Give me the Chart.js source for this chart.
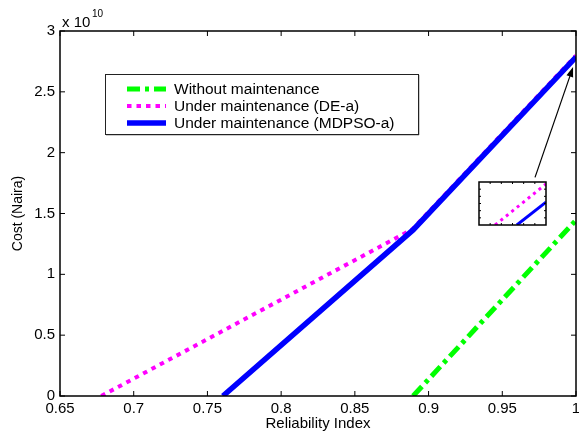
<!DOCTYPE html>
<html lang="en">
<head>
<meta charset="UTF-8">
<title>Cost vs Reliability Index</title>
<script src="https://cdn.jsdelivr.net/npm/chart.js"></script>
<style>
  body { margin: 0; background: #fff; }
  #wrap { position: relative; width: 579px; height: 433px; }
  #inset { position: absolute; }
</style>
</head>
<body>
<div id="wrap">
  <canvas id="myChart" width="579" height="433"></canvas>
  <canvas id="inset"></canvas>
</div>
<script>
const xTicks = [0.65, 0.7, 0.75, 0.8, 0.85, 0.9, 0.95, 1];
const yTicks = [0, 0.5, 1, 1.5, 2, 2.5, 3];
const seriesNames = ['Without maintenance', 'Under maintenance (DE-a)', 'Under maintenance (MDPSO-a)'];

// cost in units of 1e10 Naira
const withoutX = [0.8895, 1.0];
const withoutY = [0, 1.445];
const deX = [0.678, 0.889, 1.0];
const deY = [0, 1.37, 2.7986];
const mdpsoX = [0.7605, 0.8895, 1.0];
const mdpsoY = [0, 1.365, 2.786];

// zoomed view of the top right end
const insetXRange = [0.998, 1.0];
const insetYRange = [2.77, 2.80];
const insetDeX = [0.99848, 1.0];
const insetDeY = [2.77, 2.7986];
const insetMdpsoX = [0.99913, 1.0];
const insetMdpsoY = [2.77, 2.786];

// where the inset sits on the main axes, and the arrow pointing to the end
const insetBox = { x0: 0.9343, x1: 0.9797, y0: 1.40, y1: 1.756 };
const arrowFrom = { x: 0.9722, y: 1.797 };
const arrowTo = { x: 0.998, y: 2.704 };

const pts = (xs, ys) => xs.map((v, i) => ({ x: v, y: ys[i] }));

Chart.defaults.font.family = '"Liberation Sans", Arial, sans-serif';
Chart.defaults.color = '#000';

const styles = [
  { borderColor: '#00ff00', borderWidth: 5, borderDash: [13, 5, 4, 5], order: 2 },
  { borderColor: '#ff00ff', borderWidth: 4, borderDash: [4.5, 5], order: 1 },
  { borderColor: '#0000ff', borderWidth: 5.5, borderDash: [], order: 0 }
];

function drawFrame(chart, xs, ys, len, lw) {
  const { ctx, chartArea: a } = chart;
  ctx.save();
  ctx.strokeStyle = '#000';
  ctx.lineWidth = 1;
  ctx.beginPath();
  xs.forEach(px => {
    ctx.moveTo(px, a.bottom); ctx.lineTo(px, a.bottom - len);
    ctx.moveTo(px, a.top); ctx.lineTo(px, a.top + len);
  });
  ys.forEach(py => {
    ctx.moveTo(a.left, py); ctx.lineTo(a.left + len, py);
    ctx.moveTo(a.right, py); ctx.lineTo(a.right - len, py);
  });
  ctx.stroke();
  ctx.lineWidth = lw;
  ctx.strokeRect(a.left, a.top, a.right - a.left, a.bottom - a.top);
  ctx.restore();
}

const mainDecor = {
  id: 'mainDecor',
  afterDraw(chart) {
    const { ctx, chartArea: a, scales: { x, y } } = chart;
    drawFrame(chart,
      x.ticks.map(t => x.getPixelForValue(t.value)),
      y.ticks.map(t => y.getPixelForValue(t.value)), 5, 1.5);

    // exponent label
    ctx.save();
    ctx.fillStyle = '#000';
    ctx.textBaseline = 'alphabetic';
    ctx.font = '15px "Liberation Sans", Arial, sans-serif';
    ctx.fillText('x 10', a.left + 2, a.top - 4);
    ctx.font = '10px "Liberation Sans", Arial, sans-serif';
    ctx.fillText('10', a.left + 32, a.top - 14);

    // legend
    const lx = a.left + 45, ly = a.top + 43, lw = 313, lh = 60;
    ctx.fillStyle = '#fff';
    ctx.fillRect(lx, ly, lw, lh);
    ctx.strokeStyle = '#999';
    ctx.lineWidth = 1;
    ctx.beginPath();
    ctx.moveTo(lx + lw + 1, ly + 1); ctx.lineTo(lx + lw + 1, ly + lh + 1); ctx.lineTo(lx + 1, ly + lh + 1);
    ctx.stroke();
    ctx.strokeStyle = '#222';
    ctx.strokeRect(lx + 0.5, ly + 0.5, lw, lh);
    ctx.font = '15.5px "Liberation Sans", Arial, sans-serif';
    ctx.textBaseline = 'middle';
    chart.data.datasets.forEach((ds, i) => {
      const ry = ly + 15 + i * 17;
      ctx.strokeStyle = ds.borderColor;
      ctx.lineWidth = ds.borderWidth;
      ctx.setLineDash(ds.borderDash);
      ctx.beginPath();
      ctx.moveTo(lx + 22, ry); ctx.lineTo(lx + 61, ry);
      ctx.stroke();
      ctx.setLineDash([]);
      ctx.fillStyle = '#000';
      ctx.fillText(ds.label, lx + 69, ry + 1);
    });

    // arrow
    const x1 = x.getPixelForValue(arrowFrom.x), y1 = y.getPixelForValue(arrowFrom.y);
    const x2 = x.getPixelForValue(arrowTo.x), y2 = y.getPixelForValue(arrowTo.y);
    const ang = Math.atan2(y2 - y1, x2 - x1);
    ctx.strokeStyle = '#000';
    ctx.fillStyle = '#000';
    ctx.lineWidth = 1.2;
    ctx.beginPath();
    ctx.moveTo(x1, y1); ctx.lineTo(x2 - 8 * Math.cos(ang), y2 - 8 * Math.sin(ang));
    ctx.stroke();
    ctx.beginPath();
    ctx.moveTo(x2, y2);
    ctx.lineTo(x2 - 10 * Math.cos(ang) + 3.5 * Math.sin(ang), y2 - 10 * Math.sin(ang) - 3.5 * Math.cos(ang));
    ctx.lineTo(x2 - 10 * Math.cos(ang) - 3.5 * Math.sin(ang), y2 - 10 * Math.sin(ang) + 3.5 * Math.cos(ang));
    ctx.closePath();
    ctx.fill();
    ctx.restore();
  }
};

const fmt = v => String(+(+v).toFixed(2));

const main = new Chart(document.getElementById('myChart'), {
  type: 'line',
  data: {
    datasets: [
      { label: seriesNames[0], data: pts(withoutX, withoutY), ...styles[0] },
      { label: seriesNames[1], data: pts(deX, deY), ...styles[1] },
      { label: seriesNames[2], data: pts(mdpsoX, mdpsoY), ...styles[2] }
    ]
  },
  options: {
    responsive: false,
    animation: false,
    layout: { padding: { top: 31, right: 3, left: 0, bottom: 0 } },
    elements: { point: { radius: 0 }, line: { tension: 0, borderCapStyle: 'butt' } },
    plugins: { legend: { display: false }, tooltip: { enabled: false } },
    scales: {
      x: {
        type: 'linear', min: 0.65, max: 1,
        afterBuildTicks: s => { s.ticks = xTicks.map(v => ({ value: v })); },
        afterFit: s => { s.height = 37; s.paddingRight = 0; s.paddingLeft = 0; },
        ticks: { callback: fmt, font: { size: 15 }, padding: 4, maxRotation: 0 },
        grid: { display: false, drawTicks: false },
        border: { display: false },
        title: { display: true, text: 'Reliability Index', font: { size: 15 }, padding: { top: 0, bottom: 0 } }
      },
      y: {
        type: 'linear', min: 0, max: 3,
        afterBuildTicks: s => { s.ticks = yTicks.map(v => ({ value: v })); },
        afterFit: s => { s.width = 60; s.paddingTop = 0; s.paddingBottom = 0; },
        ticks: { callback: fmt, font: { size: 15 }, padding: 5 },
        grid: { display: false, drawTicks: false },
        border: { display: false },
        title: { display: true, text: 'Cost (Naira)', font: { size: 14 }, padding: { top: 10, bottom: 0 } }
      }
    }
  },
  plugins: [mainDecor]
});

// inset placed over the main axes using the main scales
const mx = main.scales.x, my = main.scales.y;
const il = mx.getPixelForValue(insetBox.x0), ir = mx.getPixelForValue(insetBox.x1);
const it = my.getPixelForValue(insetBox.y1), ib = my.getPixelForValue(insetBox.y0);
const ic = document.getElementById('inset');
ic.width = Math.round(ir - il) + 2;
ic.height = Math.round(ib - it) + 2;
ic.style.left = Math.round(il - 1) + 'px';
ic.style.top = Math.round(it - 1) + 'px';

const insetDecor = {
  id: 'insetDecor',
  beforeDraw(chart) {
    const { ctx, chartArea: a } = chart;
    ctx.save();
    ctx.fillStyle = '#fff';
    ctx.fillRect(a.left, a.top, a.right - a.left, a.bottom - a.top);
    ctx.restore();
  },
  afterDraw(chart) {
    const { chartArea: a } = chart;
    const xs = [], ys = [];
    for (let i = 1; i < 6; i++) {
      xs.push(a.left + (a.right - a.left) * i / 6);
      ys.push(a.top + (a.bottom - a.top) * i / 6);
    }
    drawFrame(chart, xs, ys, 2, 1.5);
  }
};

new Chart(ic, {
  type: 'line',
  data: {
    datasets: [
      { data: pts(insetDeX, insetDeY), borderColor: '#ff00ff', borderWidth: 3, borderDash: [3, 4], order: 1 },
      { data: pts(insetMdpsoX, insetMdpsoY), borderColor: '#0000ff', borderWidth: 3, order: 0 }
    ]
  },
  options: {
    responsive: false,
    animation: false,
    layout: { padding: 1 },
    elements: { point: { radius: 0 }, line: { tension: 0 } },
    plugins: { legend: { display: false }, tooltip: { enabled: false } },
    scales: {
      x: { type: 'linear', display: false, min: insetXRange[0], max: insetXRange[1] },
      y: { type: 'linear', display: false, min: insetYRange[0], max: insetYRange[1] }
    }
  },
  plugins: [insetDecor]
});
</script>
</body>
</html>
